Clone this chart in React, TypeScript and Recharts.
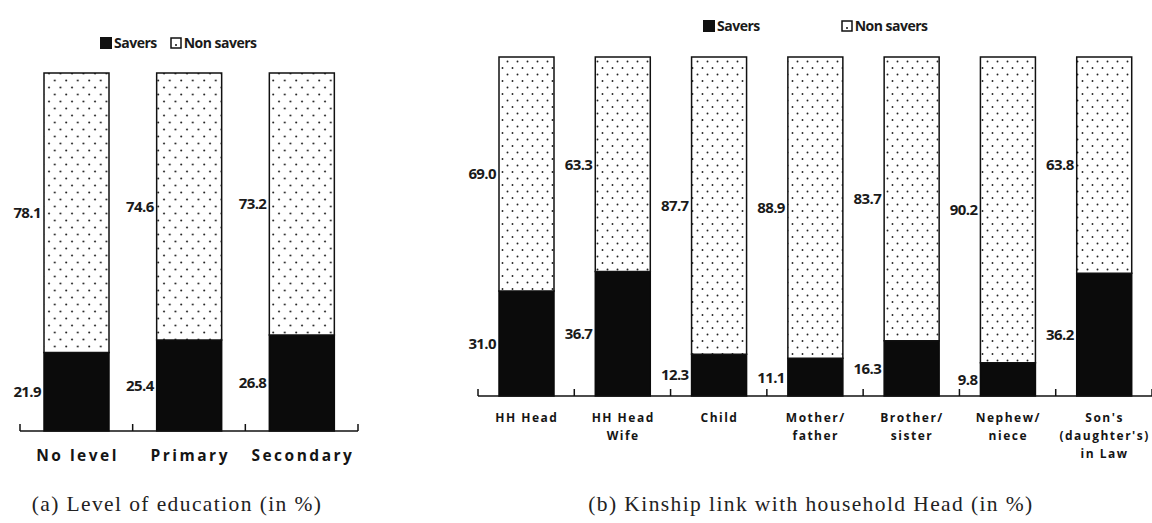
import React from 'react';
import { BarChart, Bar, XAxis, YAxis, LabelList, Legend } from 'recharts';

// ---- Data ----
const seriesNames = ['Savers', 'Non savers'];

const educationLevels = ['No level', 'Primary', 'Secondary'];
const educationSavers = [21.9, 25.4, 26.8];
const educationNonSavers = [78.1, 74.6, 73.2];

const kinshipLinks = [
  'HH Head',
  'HH Head\nWife',
  'Child',
  'Mother/\nfather',
  'Brother/\nsister',
  'Nephew/\nniece',
  "Son's\n(daughter's)\nin Law",
];
const kinshipSavers = [31.0, 36.7, 12.3, 11.1, 16.3, 9.8, 36.2];
const kinshipNonSavers = [69.0, 63.3, 87.7, 88.9, 83.7, 90.2, 63.8];

const captions = ['(a) Level of education (in %)', '(b) Kinship link with household Head (in %)'];

const buildRows = (cats: string[], s: number[], n: number[]) =>
  cats.map((c, i) => ({ category: c, savers: s[i], nonSavers: n[i] }));

const educationData = buildRows(educationLevels, educationSavers, educationNonSavers);
const kinshipData = buildRows(kinshipLinks, kinshipSavers, kinshipNonSavers);

const LABEL_FONT = '"Open Sans", Lato, sans-serif';
const CAPTION_FONT = '"Liberation Serif", serif';

const CategoryTick = (props: any) => {
  const { x, y, index, payload, fontSize, letterSpacing, lineHeight, firstDy, band, count } = props;
  const lines = String(payload.value).split('\n');
  const cx = x + letterSpacing / 2;
  const left = x - band / 2;
  const right = x + band / 2;
  return (
    <g>
      <line x1={left} x2={left} y1={y} y2={y - 7} stroke="#111" strokeWidth={1.5} />
      {index === count - 1 ? <line x1={right} x2={right} y1={y} y2={y - 7} stroke="#111" strokeWidth={1.5} /> : null}
      <text
        x={cx}
        y={y}
        textAnchor="middle"
        fontFamily={LABEL_FONT}
        fontWeight={700}
        fontSize={fontSize}
        letterSpacing={letterSpacing}
        fill="#151515"
      >
        {lines.map((l: string, i: number) => (
          <tspan key={i} x={cx} dy={i === 0 ? firstDy : lineHeight}>
            {l}
          </tspan>
        ))}
      </text>
    </g>
  );
};

const makeLegend = (gap: number) => (props: any) => {
  const payload = [...(props.payload || [])].sort(
    (a: any, b: any) => seriesNames.indexOf(a.value) - seriesNames.indexOf(b.value)
  );
  return (
    <div style={{ display: 'flex', alignItems: 'center', fontFamily: LABEL_FONT, fontWeight: 700, fontSize: 14, color: '#1a1a1a', whiteSpace: 'nowrap' }}>
      {payload.map((entry: any, i: number) => {
        const isSavers = entry.value === seriesNames[0];
        return (
          <div key={i} style={{ display: 'flex', alignItems: 'center', marginRight: i === 0 ? gap : 0 }}>
            <svg width={12} height={12} style={{ marginRight: 2 }}>
              {isSavers ? (
                <rect x={0} y={0} width={12} height={12} fill="#111" />
              ) : (
                <g>
                  <rect x={1} y={1} width={10} height={10} fill="#fff" stroke="#111" strokeWidth={1.5} />
                  <circle cx={6} cy={8} r={1} fill="#111" />
                </g>
              )}
            </svg>
            <span style={{ letterSpacing: -0.5 }}>{entry.value}</span>
          </div>
        );
      })}
    </div>
  );
};

const fmt = (v: any) => Number(v).toFixed(1);

const labelStyle = {
  fill: '#1a1a1a',
  fontFamily: LABEL_FONT,
  fontWeight: 700,
  fontSize: 15,
  letterSpacing: -0.6,
};

const A_W = 380, A_ML = 20, A_MR = 22;
const B_W = 752, B_ML = 78, B_MR = 0;

const captionStyle: React.CSSProperties = {
  position: 'absolute',
  top: 492,
  textAlign: 'center',
  fontFamily: CAPTION_FONT,
  fontSize: 21.5,
  letterSpacing: 1.4,
  color: '#222',
  whiteSpace: 'nowrap',
};

export default function App() {
  return (
    <div style={{ position: 'absolute', left: 0, top: 0, width: 1152, height: 523, background: '#fff', overflow: 'hidden' }}>
      {/* (a) */}
      <div style={{ position: 'absolute', left: 0, top: 0 }}>
        <BarChart width={A_W} height={523} data={educationData} margin={{ top: 73, right: A_MR, left: A_ML, bottom: 32 }}>
          <defs>
            <pattern id="dotsA" width={11.5} height={14} patternUnits="userSpaceOnUse">
              <rect width={11.5} height={14} fill="#fff" />
              <circle cx={3} cy={3.5} r={1} fill="#222" />
              <circle cx={8.75} cy={10.5} r={1} fill="#222" />
            </pattern>
          </defs>
          <XAxis
            dataKey="category"
            axisLine={{ stroke: '#111', strokeWidth: 1.5 }}
            tickLine={false}
            tickSize={0}
            tickMargin={0}
            height={60}
            interval={0}
            tick={
              <CategoryTick
                fontSize={15.5}
                letterSpacing={2.5}
                lineHeight={18}
                firstDy={30}
                band={(A_W - A_ML - A_MR) / educationLevels.length}
                count={educationLevels.length}
              />
            }
          />
          <YAxis hide domain={[0, 100]} />
          <Legend
            layout="vertical"
            align="center"
            verticalAlign="middle"
            itemSorter={null as any}
            wrapperStyle={{ top: 33, left: 100, width: 200 }}
            content={makeLegend(13)}
          />
          <Bar dataKey="savers" name={seriesNames[0]} stackId="s" barSize={65} fill="#0b0b0b" stroke="#0b0b0b" strokeWidth={1.5} isAnimationActive={false}>
            <LabelList dataKey="savers" position="left" offset={3} formatter={fmt} {...labelStyle} />
          </Bar>
          <Bar dataKey="nonSavers" name={seriesNames[1]} stackId="s" barSize={65} fill="url(#dotsA)" stroke="#111" strokeWidth={1.5} isAnimationActive={false}>
            <LabelList dataKey="nonSavers" position="left" offset={3} formatter={fmt} {...labelStyle} />
          </Bar>
        </BarChart>
      </div>
      <div style={{ ...captionStyle, left: 27, width: 300 }}>{captions[0]}</div>

      {/* (b) */}
      <div style={{ position: 'absolute', left: 400, top: 0 }}>
        <BarChart width={B_W} height={523} data={kinshipData} margin={{ top: 57, right: B_MR, left: B_ML, bottom: 57 }}>
          <defs>
            <pattern id="dotsB" width={10} height={13} patternUnits="userSpaceOnUse">
              <rect width={10} height={13} fill="#fff" />
              <circle cx={2.5} cy={3} r={0.95} fill="#222" />
              <circle cx={7.5} cy={9.5} r={0.95} fill="#222" />
            </pattern>
          </defs>
          <XAxis
            dataKey="category"
            axisLine={{ stroke: '#111', strokeWidth: 1.5 }}
            tickLine={false}
            tickSize={0}
            tickMargin={0}
            height={70}
            interval={0}
            tick={
              <CategoryTick
                fontSize={12}
                letterSpacing={1.5}
                lineHeight={18}
                firstDy={26}
                band={(B_W - B_ML - B_MR) / kinshipLinks.length}
                count={kinshipLinks.length}
              />
            }
          />
          <YAxis hide domain={[0, 100]} />
          <Legend
            layout="vertical"
            align="center"
            verticalAlign="middle"
            itemSorter={null as any}
            wrapperStyle={{ top: 16, left: 303, width: 300 }}
            content={makeLegend(81)}
          />
          <Bar dataKey="savers" name={seriesNames[0]} stackId="s" barSize={55} fill="#0b0b0b" stroke="#0b0b0b" strokeWidth={1.5} isAnimationActive={false}>
            <LabelList dataKey="savers" position="left" offset={3} formatter={fmt} {...labelStyle} />
          </Bar>
          <Bar dataKey="nonSavers" name={seriesNames[1]} stackId="s" barSize={55} fill="url(#dotsB)" stroke="#111" strokeWidth={1.5} isAnimationActive={false}>
            <LabelList dataKey="nonSavers" position="left" offset={3} formatter={fmt} {...labelStyle} />
          </Bar>
        </BarChart>
      </div>
      <div style={{ ...captionStyle, left: 561, width: 500 }}>{captions[1]}</div>
    </div>
  );
}
